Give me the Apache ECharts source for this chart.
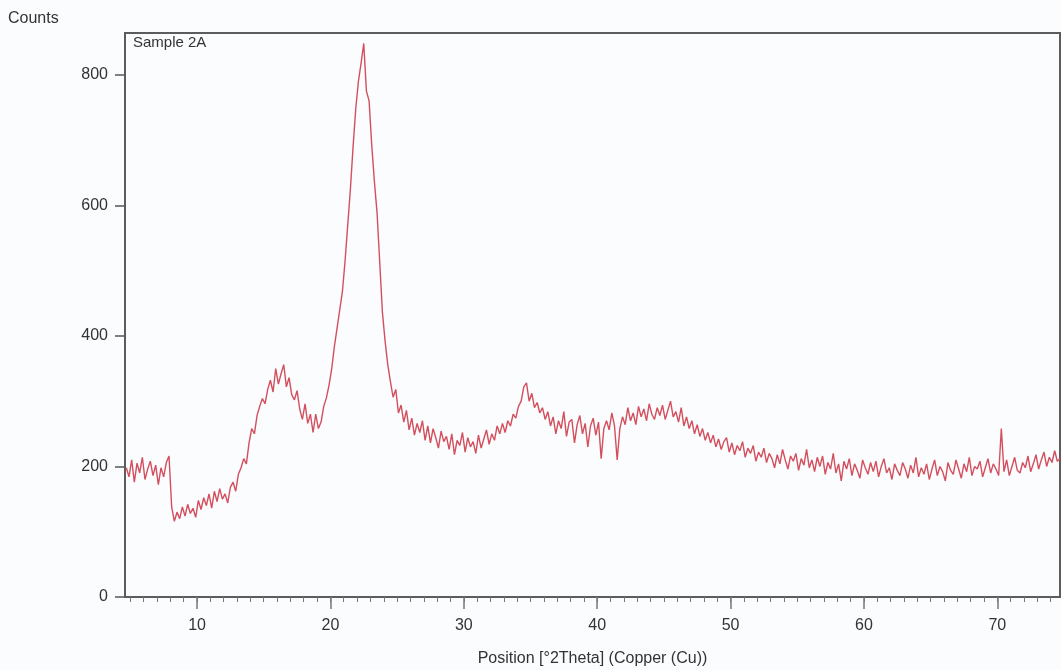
<!DOCTYPE html>
<html>
<head>
<meta charset="utf-8">
<title>Sample 2A</title>
<script src="https://cdn.jsdelivr.net/npm/echarts@6/dist/echarts.min.js"></script>
<style>
    html, body {margin: 0; padding: 0; background: #fafcfd;}
    #xrdchart {width: 1061px; height: 670px;}
</style>
</head>
<body>
<div id="xrdchart"></div>
<script>
// scan start / step in degrees 2Theta
var thetaStart = 4.7;
var thetaStep = 0.2;

// counts, one row = 2 degrees
var counts = [
    198, 184, 210, 176, 205, 190, 214, 180, 196, 208,
    186, 202, 172, 198, 184, 206, 216, 138, 116, 130,
    120, 138, 124, 142, 128, 136, 122, 148, 134, 152,
    140, 158, 136, 162, 146, 166, 150, 158, 144, 168,
    176, 162, 188, 198, 212, 204, 236, 258, 250, 278,
    292, 304, 296, 318, 332, 314, 350, 326, 342, 356,
    322, 336, 310, 302, 316, 288, 272, 296, 266, 280,
    252, 280, 258, 268, 292, 305, 325, 350, 384, 412,
    440, 468, 515, 570, 625, 690, 748, 790, 818, 848,
    775, 760, 692, 636, 588, 512, 436, 392, 356, 330,
    306, 318, 282, 294, 268, 286, 256, 274, 248, 266,
    252, 270, 240, 262, 236, 258, 244, 228, 254, 238,
    246, 226, 250, 218, 240, 232, 252, 222, 244, 230,
    238, 220, 248, 228, 242, 256, 234, 250, 240, 262,
    250, 266, 252, 270, 262, 280, 274, 292, 300, 322,
    328, 300, 312, 290, 298, 282, 290, 272, 284, 262,
    276, 250, 270, 258, 284, 246, 268, 272, 236, 264,
    278, 250, 266, 230, 262, 274, 248, 268, 212, 258,
    270, 256, 282, 262, 210, 258, 276, 264, 290, 270,
    282, 264, 292, 276, 288, 270, 296, 280, 272, 290,
    278, 294, 272, 286, 300, 276, 284, 268, 290, 262,
    276, 258, 270, 250, 264, 246, 258, 240, 252, 236,
    248, 230, 242, 226, 238, 244, 222, 236, 218, 232,
    224, 238, 214, 228, 220, 232, 208, 222, 214, 228,
    206, 220, 212, 198, 218, 204, 226, 210, 196, 216,
    208, 220, 194, 212, 202, 226, 198, 210, 192, 214,
    200, 216, 188, 206, 196, 220, 190, 204, 178, 208,
    196, 212, 186, 204, 194, 182, 210, 198, 188, 206,
    192, 208, 184, 200, 212, 190, 198, 180, 204, 194,
    186, 206, 196, 182, 202, 190, 214, 184, 198, 188,
    204, 180, 196, 210, 186, 200, 192, 178, 206, 194,
    188, 210, 196, 182, 204, 192, 214, 186, 200, 196,
    208, 184, 198, 212, 190, 204, 196, 186, 258, 192,
    210, 186, 200, 214, 194, 190, 206, 198, 216, 192,
    204, 218, 196, 210, 222, 200, 214, 206, 224, 208,
    212
];

var xRange = [4.6, 74.7];
var yRange = [0, 864];
var xTicks = [10, 20, 30, 40, 50, 60, 70];
var yTicks = [0, 200, 400, 600, 800];
var sampleName = "Sample 2A";
var yTitle = "Counts";
var xTitle = "Position [°2Theta] (Copper (Cu))";

function buildPoints() {
    var pts = [];
    for (var i = 0; i < counts.length; i++) {
        var x = Math.round((thetaStart + i * thetaStep) * 100) / 100;
        pts.push([x, counts[i]]);
    }
    return pts;
}

// one small tick every degree inside the range
function minorTicks() {
    var list = [];
    for (var d = Math.ceil(xRange[0]); d <= xRange[1]; d++) {
        list.push(d);
    }
    return list;
}

var font = "'Liberation Sans', Arial, sans-serif";
var myChart = echarts.init(document.getElementById('xrdchart'));

var option = {
    backgroundColor: '#fafcfd',
    animation: false,
    grid: {
        left: 125,
        right: 1,
        top: 33,
        bottom: 73,
        containLabel: false,
        outerBoundsMode: 'none',
        show: true,
        borderColor: '#5c5c5c',
        borderWidth: 2
    },
    graphic: [
        {
            type: 'text',
            left: 8,
            top: 11,
            style: {text: yTitle, fill: '#333', font: '16px ' + font}
        },
        {
            type: 'text',
            left: 133,
            top: 35,
            style: {text: sampleName, fill: '#333', font: '15px ' + font}
        }
    ],
    xAxis: [
        {
            type: 'value',
            min: xRange[0],
            max: xRange[1],
            name: xTitle,
            nameLocation: 'middle',
            nameGap: 54,
            nameTextStyle: {color: '#333', fontSize: 16, fontFamily: font},
            axisLine: {show: true, lineStyle: {color: '#5c5c5c', width: 2}},
            axisTick: {show: true, length: 12, customValues: xTicks, lineStyle: {color: '#777', width: 1.5}},
            axisLabel: {color: '#333', fontSize: 16, fontFamily: font, margin: 21, customValues: xTicks},
            splitLine: {show: false}
        },
        {
            type: 'value',
            gridIndex: 0,
            position: 'bottom',
            min: xRange[0],
            max: xRange[1],
            axisLine: {show: false},
            axisTick: {show: true, length: 5, customValues: minorTicks(), lineStyle: {color: '#777', width: 1}},
            axisLabel: {show: false},
            splitLine: {show: false}
        }
    ],
    yAxis: {
        type: 'value',
        min: yRange[0],
        max: yRange[1],
        axisLine: {show: true, lineStyle: {color: '#5c5c5c', width: 2}},
        axisTick: {show: true, length: 10, customValues: yTicks, lineStyle: {color: '#555', width: 1.5}},
        axisLabel: {color: '#333', fontSize: 16, fontFamily: font, margin: 17, customValues: yTicks},
        splitLine: {show: false}
    },
    series: [{
        type: 'line',
        xAxisIndex: 0,
        data: buildPoints(),
        showSymbol: false,
        symbol: 'none',
        lineStyle: {color: '#d44f5e', width: 1.4},
        itemStyle: {color: '#d44f5e'}
    }]
};

myChart.setOption(option);
</script>
</body>
</html>
